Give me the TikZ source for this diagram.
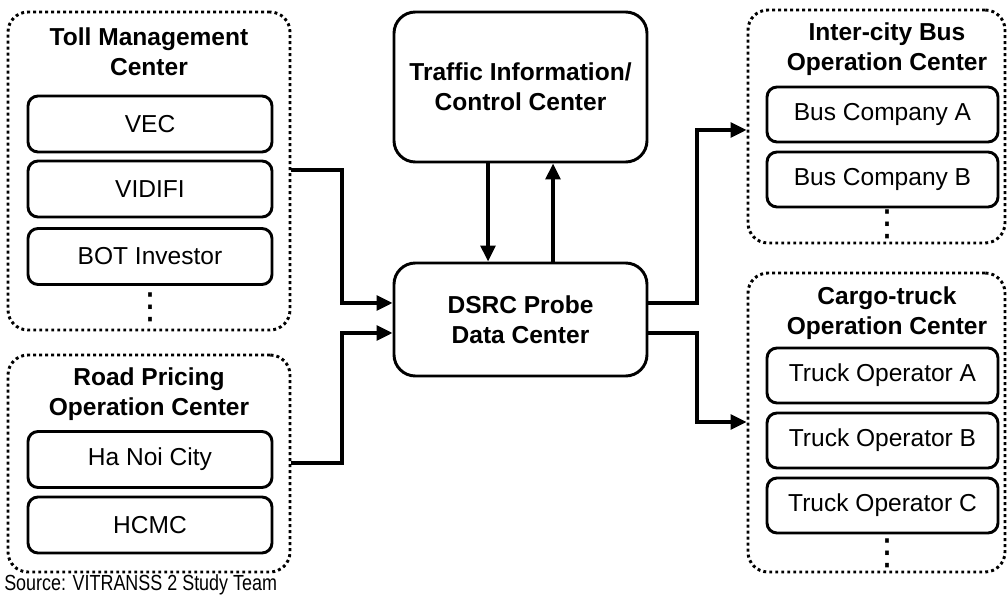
\documentclass[tikz,border=0pt]{standalone}
\usepackage{fontspec}
\setmainfont{Liberation Sans}
\newfontfamily\narrowfont[FakeStretch=0.82]{Liberation Sans}
\newfontfamily\symfont{DejaVu Sans}
\usetikzlibrary{arrows.meta,fit}

\tikzset{
  txt/.style={font=\fontsize{18.4pt}{22.5pt}\selectfont, text=black, align=center},
  heading/.style={font=\fontsize{18.4pt}{22.5pt}\selectfont\bfseries, text=black, align=center},
  group/.style={draw, line width=2.2pt, dash pattern=on 2.2pt off 2.3pt, rounded corners=15pt, inner sep=0pt},
  member/.style={txt, draw, line width=2.2pt, rounded corners=7.5pt, inner sep=0pt},
  leftmember/.style={member, minimum width=183pt, minimum height=42pt},
  rightmember/.style={member, minimum width=173.25pt, minimum height=41.25pt},
  hub/.style={heading, draw, line width=2.2pt, rounded corners=16pt, inner sep=0pt, minimum width=189.75pt},
  conn/.style={line width=2.6pt, -{Triangle[length=12pt,width=11pt]}},
  more/.style={font=\symfont\fontsize{27pt}{27pt}\selectfont, inner sep=0pt},
  note/.style={font=\narrowfont\fontsize{16.4pt}{18pt}\selectfont, text=black, inner sep=0pt}
}

\begin{document}
\begin{tikzpicture}[x=0.75pt,y=-0.75pt]
\useasboundingbox (0,0) rectangle (1008,599);

% dotted operator groups
\node[group, fit={(8,12) (290,330)}] (toll) {};
\node[group, fit={(8,355) (290,572)}] (road) {};
\node[group, fit={(748,10) (1005,243)}] (bus) {};
\node[group, fit={(748,273) (1005,572)}] (cargo) {};

% group headings
\node[heading] (tollhead) at (149,52) {Toll Management\\Center};
\node[heading] (roadhead) at (149,394) {Road Pricing\\Operation Center};
\node[heading] (bushead) at (887,49) {Inter-city Bus\\Operation Center};
\node[heading] (cargohead) at (887,313) {Cargo-truck\\Operation Center};

% members
\node[leftmember] (vec) at (150,124) {VEC};
\node[leftmember] (vidifi) at (150,189) {VIDIFI};
\node[leftmember] (bot) at (150,256.5) {BOT Investor};
\node[more] (tollmore) at (150,307) {⋮};

\node[leftmember] (hanoi) at (150,459.5) {Ha Noi City};
\node[leftmember] (hcmc) at (150,525) {HCMC};

\node[rightmember] (busa) at (882.5,114.5) {Bus Company A};
\node[rightmember] (busb) at (882.5,179.5) {Bus Company B};
\node[more] (busmore) at (887,224) {⋮};

\node[rightmember] (trucka) at (882.5,375.5) {Truck Operator A};
\node[rightmember] (truckb) at (882.5,440.5) {Truck Operator B};
\node[rightmember] (truckc) at (882.5,505.5) {Truck Operator C};
\node[more] (cargomore) at (887,553) {⋮};

% central centers
\node[hub, minimum height=112.5pt] (tic) at (520.5,87) {Traffic Information/\\Control Center};
\node[hub, minimum height=84.75pt] (dsrc) at (520.5,319.5) {DSRC Probe\\Data Center};

% data flows
\draw[conn] (toll.east |- 0,170) -| (342,303) -- (dsrc.west |- 0,303);
\draw[conn] (road.east |- 0,463) -| (342,333) -- (dsrc.west |- 0,333);
\draw[conn] (dsrc.east |- 0,303) -| (697,130) -- (bus.west |- 0,130);
\draw[conn] (dsrc.east |- 0,333) -| (697,422) -- (cargo.west |- 0,422);
\draw[conn] (tic.south -| 488,0) -- (dsrc.north -| 488,0);
\draw[conn] (dsrc.north -| 553,0) -- (tic.south -| 553,0);

% source line
\node[note, anchor=west] (source) at (4,585) {Source: VITRANSS 2 Study Team};
\end{tikzpicture}
\end{document}
